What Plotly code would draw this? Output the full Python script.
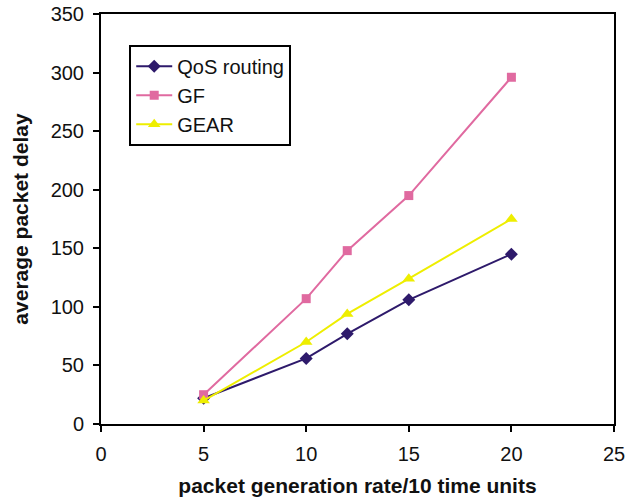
import plotly.graph_objects as go

x_rate = [5, 10, 12, 15, 20]
qos_routing = [22, 56, 77, 106, 145]
gf = [25, 107, 148, 195, 296]
gear = [20, 70, 94, 124, 175]

fig = go.Figure()
fig.add_trace(go.Scatter(x=x_rate, y=qos_routing, name="QoS routing", mode="lines+markers",
                         line=dict(color="#2E1A6B", width=2),
                         marker=dict(symbol="diamond", size=10, color="#2E1A6B")))
fig.add_trace(go.Scatter(x=x_rate, y=gf, name="GF", mode="lines+markers",
                         line=dict(color="#E06AA0", width=2),
                         marker=dict(symbol="square", size=9, color="#E06AA0")))
fig.add_trace(go.Scatter(x=x_rate, y=gear, name="GEAR", mode="lines+markers",
                         line=dict(color="#EEEE00", width=2),
                         marker=dict(symbol="triangle-up", size=11, color="#EEEE00")))

font = "Liberation Sans, Arial, sans-serif"
fig.update_layout(
    width=644, height=498,
    margin=dict(l=101, r=30, t=14, b=74),
    plot_bgcolor="white", paper_bgcolor="white",
    font=dict(family=font, size=20, color="#111111"),
    showlegend=True,
    legend=dict(x=0.055, y=0.925, xanchor="left", yanchor="top",
                bordercolor="black", borderwidth=2, bgcolor="white",
                font=dict(size=20), tracegroupgap=0, itemwidth=36),
    xaxis=dict(range=[0, 25], tickvals=[0, 5, 10, 15, 20, 25], showgrid=False, zeroline=False,
               showline=True, linecolor="black", linewidth=2, mirror=True,
               ticks="outside", ticklen=6, tickcolor="black", tickwidth=2,
               tickfont=dict(size=20), automargin=False, ticklabelstandoff=5,
               title=dict(text="<b>packet generation rate/10 time units</b>", font=dict(size=21), standoff=14)),
    yaxis=dict(range=[0, 350], tickvals=[0, 50, 100, 150, 200, 250, 300, 350], showgrid=False, zeroline=False,
               showline=True, linecolor="black", linewidth=2, mirror=True,
               ticks="outside", ticklen=6, tickcolor="black", tickwidth=2,
               tickfont=dict(size=20), automargin=False, ticklabelstandoff=5,
               title=dict(text="<b>average packet delay</b>", font=dict(size=21), standoff=16)),
)

fig.write_html("out.html")
